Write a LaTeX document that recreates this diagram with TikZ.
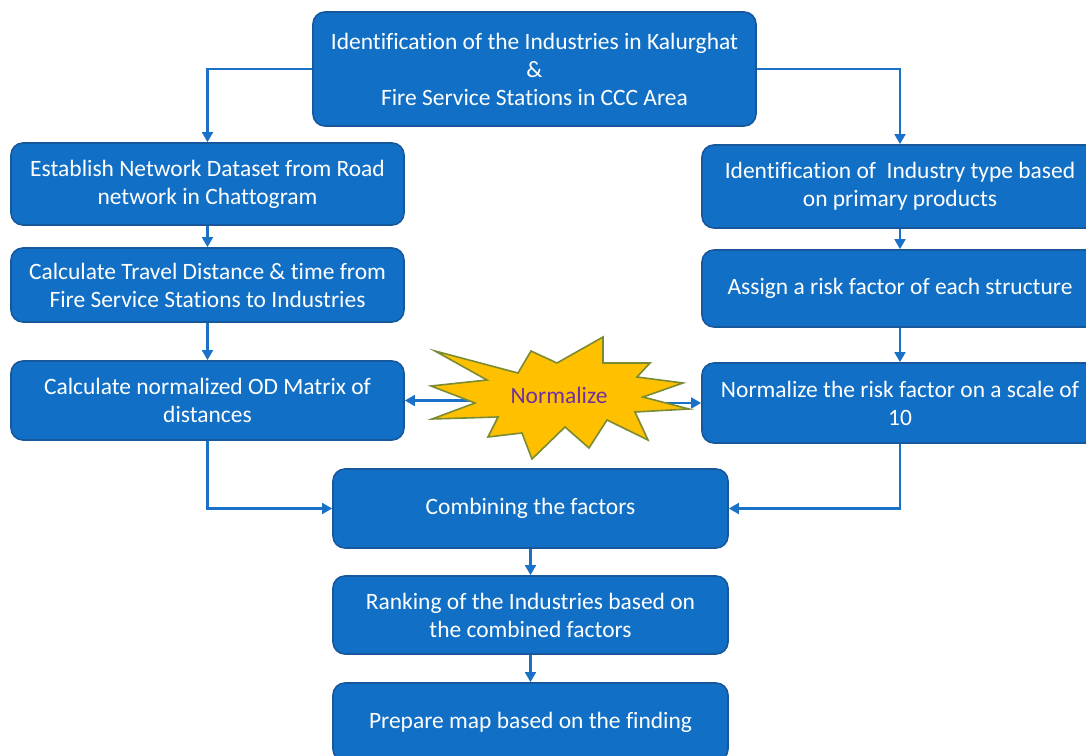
\documentclass[tikz,border=0pt]{standalone}
\usepackage{fontspec}
\setmainfont[Ligatures=CommonOff]{Carlito}
\usetikzlibrary{arrows.meta}
\definecolor{boxfill}{HTML}{1170C6}
\definecolor{boxline}{HTML}{17579C}
\definecolor{flow}{HTML}{1A72C8}
\definecolor{burst}{HTML}{FFC000}
\definecolor{burstline}{HTML}{7A8B32}
\definecolor{bursttext}{HTML}{7030A0}
\begin{document}
\begin{tikzpicture}[x=0.75pt,y=-0.75pt,
  stepbox/.style={draw=boxline,line width=1.2pt,fill=boxfill,rounded corners=9pt,
    text=white,align=center,font=\fontsize{17.6}{21}\selectfont,inner sep=0pt},
  arr/.style={draw=flow,line width=2.2pt,-{Triangle[length=7.5pt,width=8pt]}},
  burstshape/.style={draw=burstline,line width=1.2pt,fill=burst,line join=miter}]
\useasboundingbox (0,0) rectangle (1086,756);

% process boxes: centre, width and height in pixel units
\node[stepbox,minimum width=443*0.75pt,minimum height=114*0.75pt] (top) at (534.5,69)
  {Identification of the Industries in Kalurghat\\ \&\\ Fire Service Stations in CCC Area};

\node[stepbox,minimum width=393*0.75pt,minimum height=82*0.75pt] (L1) at (207.5,184)
  {Establish Network Dataset from Road\\ network in Chattogram};
\node[stepbox,minimum width=393*0.75pt,minimum height=74*0.75pt] (L2) at (207.5,285)
  {Calculate Travel Distance \& time from\\ Fire Service Stations to Industries};
\node[stepbox,minimum width=393*0.75pt,minimum height=79*0.75pt] (L3) at (207.5,400.5)
  {Calculate normalized OD Matrix of\\ distances};

\node[stepbox,minimum width=396*0.75pt,minimum height=83*0.75pt] (R1) at (900,186.5)
  {Identification of~ Industry type based\\ on primary products};
\node[stepbox,minimum width=396*0.75pt,minimum height=77*0.75pt] (R2) at (900,288.5)
  {Assign a risk factor of each structure};
\node[stepbox,minimum width=396*0.75pt,minimum height=80*0.75pt] (R3) at (900,403)
  {Normalize the risk factor on a scale of\\ 10};

\node[stepbox,minimum width=395*0.75pt,minimum height=79*0.75pt] (C1) at (530.5,508.5)
  {Combining the factors};
\node[stepbox,minimum width=395*0.75pt,minimum height=78*0.75pt] (C2) at (530.5,615)
  {Ranking of the Industries based on\\ the combined factors};
\node[stepbox,minimum width=395*0.75pt,minimum height=78*0.75pt] (C3) at (530.5,722)
  {Prepare map based on the finding};

% connectors
\draw[arr] (top.west) -| (L1.north);
\draw[arr] (top.east) -| (R1.north);
\draw[arr] (L1) -- (L2);
\draw[arr] (L2) -- (L3);
\draw[arr] (R1) -- (R2);
\draw[arr] (R2) -- (R3);
\draw[arr] (L3.south) |- (C1.west);
\draw[arr] (R3.south) |- (C1.east);
\draw[arr] (C1) -- (C2);
\draw[arr] (C2) -- (C3);

% normalize burst with its two outgoing arrows
\coordinate (nz) at (559,402);
\draw[arr] (nz |- L3.east) -- (L3.east);
\draw[arr] (nz |- R3.west) -- (R3.west);
\draw[burstshape] (435,351) -- (518,373) -- (531,351) -- (557,363) -- (603,337)
  -- (603,363) -- (650,363) -- (637,377) -- (683,383) -- (643,397) -- (689,409)
  -- (635,412) -- (648,440) -- (607,420) -- (589,448) -- (565,427) -- (532,459)
  -- (522,433) -- (488,437) -- (498,417) -- (432,419) -- (475,403) -- (431,386)
  -- (487,380) -- cycle;
\node[text=bursttext,font=\fontsize{17.6}{21}\selectfont] (norm) at (559,395) {Normalize};
\end{tikzpicture}
\end{document}
